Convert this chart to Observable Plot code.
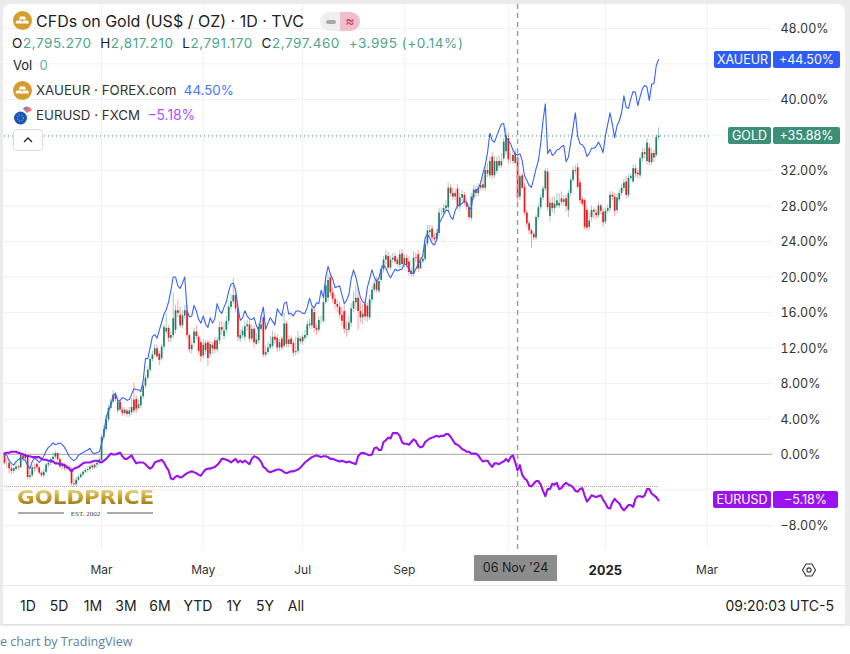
<!DOCTYPE html>
<html>
<head>
<meta charset="utf-8">
<script src="https://cdn.jsdelivr.net/npm/d3@7"></script>
<script src="https://cdn.jsdelivr.net/npm/@observablehq/plot@0.6"></script>
<style>
html,body{margin:0;padding:0;background:#fff;width:850px;height:654px;overflow:hidden;font-family:Inter,"Noto Sans",sans-serif;}
#rim{position:absolute;left:0;top:0;width:850px;height:626px;background:#ebebeb;}
#card{position:absolute;left:3px;top:4px;width:842px;height:621px;background:#fff;border-radius:8px 8px 0 0;border-bottom:1px solid #e0e0e0;box-sizing:border-box;}
#chart{position:absolute;left:0;top:0;}
#chart svg{background:transparent;display:block;}
.abs{position:absolute;white-space:nowrap;}
.badge{position:absolute;height:17px;line-height:17px;color:#fff;font-size:12.5px;text-align:center;border-radius:2px;}
.tf{position:absolute;top:597px;font-size:14px;color:#222;transform:translateX(-50%);line-height:17px;}
</style>
</head>
<body>
<div id="rim"></div><div id="card"></div>
<div id="chart"></div>
<div id="overlay"></div>
<script>
// Bars are trading days, one index per bar (gold values are % change on the chart's percent scale)
const goldOpen = [
0.1,-0.9,-1.0,-1.6,-1.9,-1.7,-1.4,-1.5,-0.2,-0.5,-0.1,-2.6,-2.4,-1.5,-1.1,-1.5,-2.1,-2.4,-2.0,-1.2,
-1.0,-0.6,-0.3,0.1,-0.6,-1.4,-1.2,-1.6,-1.5,-1.7,-3.3,-3.4,-2.9,-2.6,-2.3,-2.0,-1.8,-1.7,-1.3,-1.5,
-1.2,-1.0,-0.7,1.9,2.8,3.9,5.2,5.9,6.7,4.9,5.9,5.0,4.6,4.9,4.5,4.7,6.1,6.2,5.2,5.5,
6.5,7.7,8.6,9.5,10.7,11.2,11.9,11.3,10.8,12.1,13.8,14.2,13.1,13.4,14.0,16.2,15.7,14.5,15.6,16.2,
13.4,11.8,12.5,13.8,13.2,12.6,11.1,12.5,12.6,11.3,12.3,12.8,11.8,12.8,14.3,13.3,14.0,15.0,16.6,17.2,
17.9,16.4,13.0,13.4,13.2,14.4,14.6,13.0,14.1,12.4,12.8,14.1,15.4,11.2,11.5,12.0,12.2,13.2,13.1,12.0,
13.0,12.2,14.7,12.4,13.0,12.5,11.5,11.6,13.0,12.7,13.1,13.4,14.5,14.5,16.0,14.2,14.0,15.0,15.0,17.1,
17.6,19.9,18.2,17.5,16.9,16.6,15.7,16.1,14.1,14.0,14.8,16.4,17.1,17.6,16.1,15.4,16.9,16.7,15.4,17.4,
18.5,19.6,18.4,19.6,20.8,21.9,22.3,21.0,21.9,22.3,21.9,21.3,22.6,21.4,22.1,21.7,20.6,20.3,22.2,22.5,
20.9,21.7,22.0,23.7,25.0,25.4,24.4,24.2,24.9,27.2,27.2,27.7,27.8,30.0,29.4,29.0,29.9,27.9,28.9,29.2,
28.3,27.8,26.6,28.9,29.8,29.4,30.0,30.4,30.0,32.0,31.4,33.5,31.4,31.9,33.0,32.5,33.3,34.1,35.6,33.3,
33.7,32.8,33.4,29.0,31.4,30.1,27.2,26.0,25.2,24.8,24.4,26.7,27.8,28.9,29.9,31.8,26.8,28.3,27.7,28.0,
28.0,28.8,28.4,28.8,27.5,29.4,30.9,32.0,32.3,30.6,28.7,28.6,27.5,25.6,26.7,27.5,27.2,26.9,28.0,27.3,
26.2,27.4,27.7,29.2,29.0,27.5,28.7,29.4,30.0,30.7,29.2,31.1,30.7,32.2,31.7,31.4,33.3,34.0,33.0,34.5,
32.9,33.9,33.7,35.7];
const goldHigh = [
0.2,-0.4,-0.7,-1.2,-1.5,-0.9,-1.2,0.1,0.2,0.3,-0.1,-1.9,-1.2,-1.1,-1.0,-1.4,-1.9,-1.7,-1.0,-0.7,
-0.4,0.2,0.4,0.2,-0.4,-1.0,-1.0,-1.2,-1.2,-1.5,-2.8,-2.6,-2.3,-2.1,-1.8,-1.6,-1.4,-1.2,-1.1,-1.0,
-0.7,-0.3,2.2,3.2,4.5,5.6,6.3,7.2,7.0,6.5,6.2,5.3,5.3,5.1,5.3,6.3,8.0,6.6,6.1,6.8,
7.9,8.9,9.9,11.0,11.6,12.4,12.3,11.6,12.4,14.6,15.8,14.5,13.8,18.2,16.8,17.4,16.6,16.2,16.8,16.8,
13.6,12.8,14.2,14.5,13.4,12.9,12.9,12.8,12.9,12.7,12.6,13.2,13.2,14.9,15.0,14.8,15.6,17.0,18.0,19.8,
18.4,16.8,14.0,14.4,15.0,15.1,15.2,14.6,14.5,13.6,14.7,15.6,15.6,12.2,12.6,13.3,13.9,13.7,13.5,13.0,
13.3,15.9,15.0,13.3,13.4,12.9,13.2,13.9,13.3,13.5,14.0,15.0,15.2,16.7,16.4,14.7,15.5,15.6,18.0,19.9,
20.3,20.4,18.8,18.0,17.4,17.2,16.4,16.8,14.9,15.6,17.0,18.4,19.0,18.8,17.2,16.9,17.4,17.1,18.0,19.0,
19.7,20.0,19.9,21.3,22.3,23.0,22.8,22.4,22.6,22.7,22.2,23.0,23.1,22.5,22.5,22.2,21.0,22.9,22.7,23.0,
22.2,22.5,24.1,25.8,25.8,25.8,24.9,25.4,27.7,27.8,28.2,28.6,30.6,30.4,30.0,29.9,30.4,29.4,29.8,29.5,
28.7,28.2,29.4,30.3,30.2,30.5,30.8,31.2,32.5,32.8,33.5,34.0,33.6,33.5,33.6,33.9,35.6,36.8,36.2,34.0,
34.2,34.4,34.0,31.6,31.7,30.5,27.5,26.3,25.4,25.0,27.0,28.2,29.3,30.2,32.2,32.2,28.8,29.0,29.0,29.4,
29.4,29.6,29.2,29.2,29.7,31.2,32.4,32.6,32.8,31.0,29.0,28.8,27.9,27.2,28.0,27.8,27.6,28.4,28.2,27.6,
27.8,28.1,29.6,29.6,29.4,29.3,29.8,30.4,31.0,31.3,31.5,31.6,32.6,32.6,32.0,33.6,34.5,34.5,35.6,35.0,
34.5,34.3,36.0,36.8];
const goldLow = [
-1.2,-1.6,-2.2,-2.3,-2.2,-1.9,-1.8,-1.6,-0.9,-0.8,-2.9,-2.9,-2.6,-2.0,-1.8,-2.3,-2.6,-2.7,-2.2,-1.5,
-1.3,-0.9,-0.6,-0.9,-1.6,-1.8,-1.9,-1.9,-2.0,-3.6,-3.7,-3.6,-3.1,-2.7,-2.5,-2.2,-2.1,-2.0,-1.8,-1.7,
-1.6,-1.3,-1.0,1.6,2.5,3.6,5.0,5.6,5.9,4.6,4.8,4.3,4.3,4.2,4.2,4.4,4.6,4.6,5.0,5.2,
6.2,7.4,8.4,9.2,10.4,11.0,10.8,10.0,10.5,11.8,13.5,12.6,12.6,13.0,13.6,15.4,14.2,14.2,15.2,13.0,
11.4,11.3,12.2,12.9,11.2,10.4,10.8,11.2,9.9,10.9,11.3,11.4,11.5,12.4,13.4,12.9,13.6,14.6,16.2,16.9,
16.0,12.7,12.6,13.0,12.7,13.9,12.6,12.7,12.0,12.3,12.5,13.8,10.9,10.9,11.2,11.7,11.9,12.5,11.5,11.6,
11.7,12.0,12.0,12.0,12.1,11.0,11.1,11.3,12.4,12.3,12.8,13.1,14.1,14.1,13.7,13.4,13.7,14.6,14.8,16.9,
17.2,17.8,17.0,16.3,16.0,15.2,14.4,13.6,13.2,13.7,14.3,16.0,16.2,14.0,14.8,14.6,15.0,14.9,15.1,17.0,
18.2,18.2,18.1,19.3,20.4,21.4,20.8,20.7,21.5,21.4,21.1,21.0,21.2,21.0,20.9,20.1,20.0,20.0,21.6,20.5,
21.2,21.5,21.7,23.4,24.6,24.0,23.9,23.9,24.6,26.9,26.9,27.4,27.3,29.0,28.6,28.6,27.6,27.4,28.5,28.0,
27.5,26.4,26.3,28.6,29.0,29.0,29.7,29.7,29.7,31.2,31.1,31.0,31.1,31.6,32.2,32.2,33.0,33.7,32.7,32.8,
32.7,32.6,28.2,28.6,29.8,26.9,25.6,24.8,23.2,24.1,24.1,26.4,27.5,28.6,29.6,27.4,26.2,27.2,27.1,27.7,
27.7,28.0,28.0,27.3,26.7,29.0,30.6,31.5,29.8,28.2,27.9,25.3,25.2,25.2,26.2,26.5,26.5,26.6,27.0,25.6,
25.9,27.1,27.3,28.6,26.8,27.2,28.4,29.1,29.6,28.8,28.9,30.8,30.5,31.2,31.0,31.1,32.9,33.3,32.6,32.5,
32.6,32.9,33.5,35.4];
const goldClose = [
-1.0,-0.9,-1.6,-1.9,-1.6,-1.4,-1.5,-0.1,-0.5,0.0,-2.6,-2.4,-1.5,-1.6,-1.5,-2.1,-2.4,-2.0,-1.2,-1.0,
-0.6,-0.3,0.1,-0.6,-1.4,-1.2,-1.6,-1.5,-1.7,-3.3,-3.4,-2.9,-2.6,-2.3,-2.0,-1.8,-1.7,-1.4,-1.5,-1.2,
-1.0,-0.6,1.9,2.8,3.9,5.2,5.9,6.7,6.2,5.9,5.0,4.6,5.0,4.5,4.9,5.3,4.9,5.1,5.6,6.5,
7.7,8.6,9.5,10.7,11.2,11.9,11.0,10.6,12.1,14.3,14.2,13.1,13.4,15.3,16.2,15.9,14.5,15.6,16.2,13.4,
11.8,12.3,13.8,13.3,11.6,11.0,12.3,11.7,10.8,12.4,11.9,11.8,12.8,14.3,14.0,13.9,15.0,16.6,17.2,17.9,
16.4,13.2,13.4,13.9,14.4,14.6,13.0,14.1,12.6,12.9,14.3,14.6,11.2,11.5,12.0,12.4,13.2,12.9,12.0,12.6,
12.0,14.7,12.4,12.9,12.4,11.4,11.6,13.1,12.7,13.2,13.4,14.6,14.7,16.4,14.2,14.0,15.1,15.0,17.1,19.0,
19.6,18.2,17.5,16.9,16.6,15.7,15.0,14.1,14.0,14.8,16.4,17.2,17.6,16.1,15.4,15.8,15.5,15.5,17.4,18.5,
19.2,18.5,19.5,20.8,21.9,22.4,21.0,21.9,22.1,21.7,21.4,22.5,21.4,22.1,21.3,20.5,20.3,22.1,22.1,20.9,
21.7,22.0,23.7,25.2,25.2,24.4,24.2,24.9,27.2,27.2,27.7,28.0,30.0,29.4,29.0,29.4,27.9,28.9,29.3,28.3,
27.9,26.7,29.0,29.8,29.4,30.0,30.3,30.0,32.0,31.6,33.0,31.4,33.0,33.0,32.5,33.0,35.2,35.9,33.2,33.3,
33.0,33.9,28.9,31.3,30.0,27.2,26.0,25.2,24.8,24.4,26.7,27.8,28.9,29.9,31.9,27.8,28.3,27.7,28.2,28.6,
28.3,28.4,28.7,27.9,29.4,30.9,32.0,31.9,30.1,28.6,28.2,25.6,25.5,26.3,27.5,27.3,26.9,28.0,27.4,26.1,
27.4,27.7,29.2,29.0,27.4,28.9,29.4,30.0,30.6,29.2,31.1,31.3,32.2,31.6,31.5,33.3,34.0,33.8,35.1,32.9,
33.9,33.4,35.7,35.88];
const xaueur = [
0.0,-0.1,-0.7,-1.0,-1.2,-0.8,-0.6,-0.4,-0.5,-0.7,-1.2,-1.6,-0.8,-0.4,-0.6,-0.9,-0.6,-0.2,0.4,0.8,
1.0,1.3,1.1,1.2,1.3,1.1,0.8,0.3,-0.2,-0.5,-0.7,-0.5,-0.1,0.1,0.2,0.4,0.5,0.7,0.2,0.1,
0.2,0.3,1.2,2.4,4.2,4.9,5.6,6.6,6.9,6.0,6.1,6.4,6.3,6.1,6.2,6.8,7.4,7.3,7.3,7.1,
8.3,10.8,10.8,12.0,13.3,13.5,13.1,14.0,14.9,15.8,16.3,17.2,18.5,20.0,20.0,19.0,18.7,19.3,20.0,16.2,
15.5,15.6,16.8,16.2,15.2,14.8,15.6,14.7,14.3,15.4,14.8,15.3,17.0,16.2,15.9,16.6,17.2,18.4,19.2,19.3,
18.5,16.6,15.1,15.4,16.2,15.6,15.3,15.2,15.4,14.5,14.0,15.6,16.6,14.1,14.8,15.4,15.0,14.6,16.4,16.0,
15.6,17.0,17.2,15.8,15.9,15.6,16.1,16.2,16.1,15.9,15.9,16.6,17.6,16.8,16.5,17.1,17.0,18.5,17.7,20.0,
21.2,20.3,19.8,18.8,18.9,19.0,18.0,17.0,17.4,18.0,19.8,20.8,20.0,18.8,17.7,17.2,17.0,18.8,19.8,20.8,
20.0,19.5,19.9,20.9,21.4,21.0,20.4,19.9,20.4,20.9,20.7,20.8,20.9,21.5,21.3,21.0,20.4,20.4,20.9,21.5,
21.9,22.4,24.4,24.8,24.4,23.8,23.6,24.2,26.0,26.5,27.0,27.5,27.5,26.8,26.5,27.5,28.0,28.1,28.3,28.6,
28.4,27.6,27.8,29.6,29.8,29.9,30.6,31.7,32.6,34.0,36.2,35.4,35.2,35.9,36.6,37.2,37.3,35.5,35.4,35.0,
34.3,33.9,33.7,33.9,33.1,31.4,30.9,30.3,30.1,31.1,32.2,33.1,35.0,37.6,39.5,33.9,34.4,33.7,33.9,34.3,
34.4,34.7,34.8,33.0,33.5,35.2,36.8,38.5,35.9,35.0,34.9,34.5,33.6,33.9,34.5,34.5,34.7,35.2,34.7,34.0,
35.9,37.2,38.5,37.2,35.7,37.0,37.6,38.5,40.4,39.1,39.0,40.1,40.9,40.8,39.3,40.3,41.2,41.6,41.4,39.9,
41.7,41.8,43.8,44.50];
const eurusd = [
0.1,0.2,0.2,0.3,0.3,0.3,0.2,0.1,0.0,-0.1,-0.2,-0.2,-0.3,-0.3,-0.3,-0.3,-0.5,-0.6,-0.6,-0.7,
-0.7,-0.8,-1.0,-1.0,-1.1,-1.1,-1.2,-1.4,-1.6,-1.9,-1.6,-1.5,-1.4,-1.2,-1.0,-0.9,-0.9,-0.9,-0.8,-0.7,
-0.7,-0.8,-0.9,-0.7,-0.5,-0.2,0.1,0.0,0.0,0.1,0.2,-0.2,-0.5,-0.5,-0.3,-0.1,-0.6,-1.0,-0.9,-0.9,
-0.9,-1.1,-1.4,-1.6,-1.4,-0.9,-0.8,-0.7,-0.6,-0.9,-1.4,-1.8,-2.7,-2.8,-2.5,-2.4,-2.6,-2.5,-2.3,-2.1,
-2.0,-1.9,-2.0,-2.1,-2.3,-2.4,-2.0,-1.7,-1.6,-1.6,-1.5,-1.4,-1.2,-0.9,-0.5,-0.5,-0.6,-0.7,-0.9,-0.7,
-0.5,-0.9,-0.7,-0.9,-0.7,-0.9,-1.1,-0.5,-0.2,-0.3,-0.5,-0.8,-1.4,-1.6,-1.9,-2.0,-1.9,-1.8,-1.7,-1.7,
-1.8,-2.0,-2.1,-2.0,-1.9,-1.9,-1.8,-1.7,-1.5,-1.2,-0.9,-0.7,-0.5,-0.3,-0.2,-0.1,-0.2,-0.3,-0.2,-0.2,
-0.3,-0.5,-0.5,-0.6,-0.7,-0.8,-0.7,-0.8,-0.9,-0.8,-0.9,-1.0,-1.1,-0.2,0.1,0.2,0.1,0.0,-0.1,0.0,
0.7,0.8,0.5,0.5,1.4,1.6,1.9,1.8,2.4,2.4,2.4,2.1,1.4,1.2,1.2,1.1,1.4,1.7,1.5,1.0,
0.8,0.9,1.4,1.6,1.8,1.9,2.0,2.1,2.0,2.1,2.1,2.3,2.3,2.0,1.6,1.2,1.1,0.9,0.6,0.5,
0.3,0.3,0.1,0.1,0.1,-0.1,-0.5,-0.8,-0.7,-0.7,-1.1,-1.4,-1.0,-1.0,-1.1,-0.9,-0.8,-0.5,-0.8,-0.3,
-0.1,-0.9,-1.8,-1.2,-2.3,-2.7,-2.9,-3.5,-3.6,-3.3,-3.0,-3.0,-3.4,-4.1,-4.7,-3.9,-3.9,-3.3,-3.4,-3.2,
-3.9,-3.8,-3.4,-3.2,-3.4,-3.5,-3.7,-4.1,-4.2,-3.9,-3.8,-4.6,-5.3,-5.0,-4.6,-4.7,-4.8,-4.7,-4.6,-5.1,
-5.5,-6.0,-6.1,-5.4,-5.0,-5.3,-5.5,-6.0,-6.3,-6.0,-5.7,-5.7,-5.9,-5.0,-4.7,-4.7,-4.8,-4.6,-3.9,-3.9,
-4.4,-4.6,-4.8,-5.18];

const gridTicksY = [48,44,40,36,32,28,24,20,16,12,8,4,0,-4,-8];
const labelTicksY = [48,40,32,28,24,20,16,12,8,4,0,-8];
const monthBars = [42,86,129,173,304];
const monthLabels = ["Mar","May","Jul","Sep","Mar"];
const yearBar = [260];
const yearLabel = ["2025"];
const gridBars = [42,86,129,173,218,260,304];
const crosshairBar = 222;
const crosshairLabel = "06 Nov '24";
const goldLast = 35.88, xaueurLast = 44.50, eurusdLast = -5.18, gapLevel = -3.6;
const timeframes = ["1D","5D","1M","3M","6M","YTD","1Y","5Y","All"];

const UP = "#1f8068", DOWN = "#f2161c", BLUE = "#3a63f5", PURPLE = "#9b12f2";
const bars = goldClose.map((c,i)=>({i,o:goldOpen[i],h:goldHigh[i],l:goldLow[i],c,eur:xaueur[i],usd:eurusd[i],col:c>=goldOpen[i]?UP:DOWN}));
const fmtPct = d => (d<0?"−":"")+Math.abs(d).toFixed(2)+"%";

const chart = Plot.plot({
  width:850,height:654,
  marginTop:4,marginBottom:104,marginLeft:3,marginRight:78,
  style:{fontFamily:"Inter, sans-serif",fontSize:"13px",background:"transparent",color:"#333"},
  x:{type:"linear",domain:[-0.43,332.3],axis:null},
  y:{type:"linear",domain:[-10.82,50.70],axis:null},
  marks:[
    Plot.gridX(gridBars,{stroke:"#f1f1f1",strokeOpacity:1}),
    Plot.gridY(gridTicksY,{stroke:"#f1f1f1",strokeOpacity:1}),
    Plot.ruleY([0],{stroke:"#b4b4b4",strokeWidth:1.2}),
    Plot.ruleY([goldLast],{stroke:"#3d8f78",strokeDasharray:"1,3",x2:305}),
    Plot.ruleY([gapLevel],{stroke:"#e58a8a",strokeDasharray:"1,3",x2:283}),
    Plot.ruleY([gapLevel],{stroke:"#7bbcae",strokeDasharray:"1,3",strokeDashoffset:2,x2:283}),
    Plot.ruleX(bars,{x:"i",y1:"l",y2:"h",stroke:"col",strokeOpacity:0.4,strokeWidth:1}),
    Plot.ruleX(bars,{x:"i",y1:"o",y2:"c",stroke:"col",strokeWidth:1.7}),
    Plot.line(bars,{x:"i",y:"eur",stroke:BLUE,strokeWidth:1.1,curve:"linear"}),
    Plot.line(bars,{x:"i",y:"usd",stroke:PURPLE,strokeWidth:2.1,curve:"linear"}),
    Plot.ruleX([crosshairBar],{stroke:"#9b9b9b",strokeWidth:1.4,strokeDasharray:"5,4"}),
    Plot.axisY(labelTicksY,{anchor:"right",tickSize:0,tickPadding:8,tickFormat:fmtPct,label:null,fill:"#333",fontSize:12.5,dy:1}),
    Plot.axisX(monthBars,{anchor:"bottom",tickSize:0,tickPadding:15,tickFormat:(d,i)=>monthLabels[i],label:null,fill:"#333",fontSize:12}),
    Plot.axisX(yearBar,{anchor:"bottom",tickSize:0,tickPadding:15,tickFormat:(d,i)=>yearLabel[i],label:null,fontWeight:"bold",fill:"#222",fontSize:13})
  ]
});
document.getElementById("chart").appendChild(chart);

const X = v => chart.scale("x").apply(v), Y = v => chart.scale("y").apply(v);
const ov = document.getElementById("overlay");
function add(html){ov.insertAdjacentHTML("beforeend",html);}
function badge(name,val,color,left1,left2,w2,v){
  const top = Y(v)-8.5;
  add(`<div class="badge" style="left:${left1}px;width:${771-left1}px;top:${top}px;background:${color}">${name}</div>`);
  add(`<div class="badge" style="left:${left2}px;width:${w2}px;top:${top}px;background:${color}">${val}</div>`);
}
badge("XAUEUR","+"+xaueurLast.toFixed(2)+"%","#2f5cf4",714,773,67,xaueurLast);
badge("GOLD","+"+goldLast.toFixed(2)+"%","#3d8f78",728,773,67,goldLast);
badge("EURUSD",fmtPct(eurusdLast),"#9a12ee",713,773,65,eurusdLast);

// crosshair time label
add(`<div class="abs" style="left:${X(crosshairBar)-43}px;top:555px;width:83px;height:26px;line-height:26px;text-align:center;background:#8c8c8c;color:#1c1c1c;font-size:12.5px;">${crosshairLabel}</div>`);

// header legend
const goldIcon = (x,y)=>`<svg class="abs" style="left:${x}px;top:${y}px" width="19" height="19" viewBox="0 0 19 19"><circle cx="9.5" cy="9.5" r="9.5" fill="#d49e2e"/><path d="M7 5.5h5l1 3H6z M3.5 9.5h5l1 3h-7z M10 9.5h5l1 3h-7z" fill="#fff"/></svg>`;
add(goldIcon(13,11));
add(`<div class="abs" style="left:36px;top:11px;font-size:16px;line-height:20px;color:#222">CFDs on Gold (US$ / OZ) · 1D · TVC</div>`);
add(`<div class="abs" style="left:320px;top:12px;width:20px;height:19px;background:#efefef;border-radius:10px 0 0 10px"></div>`);
add(`<div class="abs" style="left:340px;top:12px;width:20px;height:19px;background:#f0bdcb;border-radius:0 10px 10px 0;color:#d0305a;font-size:14px;line-height:18px;text-align:center">≈</div>`);
add(`<div class="abs" style="left:326px;top:19.5px;width:10px;height:4px;background:#a8a8a8;border-radius:2px"></div>`);
const g = s=>`<span style="color:#4ea58c">${s}</span>`;
add(`<div class="abs" style="left:12px;top:35px;font-size:13.5px;line-height:17px;color:#222;letter-spacing:.55px">O${g("2,795.270")}&nbsp; H${g("2,817.210")}&nbsp; L${g("2,791.170")}&nbsp; C${g("2,797.460")}&nbsp; ${g("+3.995 (+0.14%)")}</div>`);
add(`<div class="abs" style="left:13px;top:57px;font-size:13px;line-height:17px;color:#222">Vol &nbsp;<span style="color:#5cb3a6">0</span></div>`);
add(goldIcon(13,81));
add(`<div class="abs" style="left:36px;top:81px;font-size:13.3px;line-height:18px;color:#333">XAUEUR · FOREX.com &nbsp;<span style="color:#4b73ff">44.50%</span></div>`);
add(`<svg class="abs" style="left:13px;top:105px" width="20" height="20" viewBox="0 0 20 20"><circle cx="7.5" cy="13" r="6.5" fill="#1d55b8"/><circle cx="7.5" cy="13" r="3" fill="none" stroke="#9cc0ee" stroke-dasharray="1,1.5"/><path d="M10 4a5 5 0 0 1 9 1l-5 3z" fill="#e8707c"/><path d="M10 4a5 5 0 0 1 4-2.5v3z" fill="#5b8fd8"/></svg>`);
add(`<div class="abs" style="left:36px;top:106px;font-size:13.3px;line-height:18px;color:#333">EURUSD · FXCM &nbsp;<span style="color:#a94dff;font-size:13.8px">−5.18%</span></div>`);
add(`<svg class="abs" style="left:13px;top:129px" width="30" height="22" viewBox="0 0 30 22"><rect x="0.5" y="0.5" width="29" height="21" rx="3" fill="#fff" stroke="#dcdcdc"/><path d="M11 13l4-4 4 4" fill="none" stroke="#222" stroke-width="1.4"/></svg>`);

// logo
add(`<div class="abs" style="left:17px;top:487px;font-family:'DejaVu Sans';font-weight:bold;font-size:20px;line-height:20px;letter-spacing:-.2px;background:linear-gradient(#efe09a,#c4a02c 55%,#8a6d14);-webkit-background-clip:text;background-clip:text;color:transparent;transform-origin:left top;transform:scaleX(1.08)">GOLDPRICE</div>`);
add(`<div class="abs" style="left:18px;top:512px;width:46px;height:2px;background:#aaa"></div>`);
add(`<div class="abs" style="left:107px;top:512px;width:46px;height:2px;background:#aaa"></div>`);
add(`<div class="abs" style="left:64px;top:510px;width:43px;text-align:center;font-family:'Liberation Serif';font-size:7px;line-height:8px;color:#444">EST. 2002</div>`);

// gear
add(`<svg class="abs" style="left:801px;top:562px" width="16" height="16" viewBox="0 0 16 16"><path d="M5 2h6l3.5 6-3.5 6H5L1.5 8z" fill="none" stroke="#333" stroke-width="1.1"/><circle cx="8" cy="8" r="2.1" fill="none" stroke="#333" stroke-width="1.1"/></svg>`);

// bottom bar
add(`<div class="abs" style="left:3px;top:585px;width:842px;height:1px;background:#e8e8e8"></div>`);
const tfCenters = [28,59,93,126,160,198,234,265,296];
timeframes.forEach((t,i)=>add(`<div class="tf" style="left:${tfCenters[i]}px">${t}</div>`));
add(`<div class="abs" style="right:16px;top:597px;font-size:14px;line-height:17px;color:#222">09:20:03 UTC-5</div>`);
add(`<div class="abs" style="left:0;top:633px;font-family:'Open Sans';font-size:12.5px;line-height:17px;color:#5b82a8">e chart by TradingView</div>`);
</script>
</body>
</html>
